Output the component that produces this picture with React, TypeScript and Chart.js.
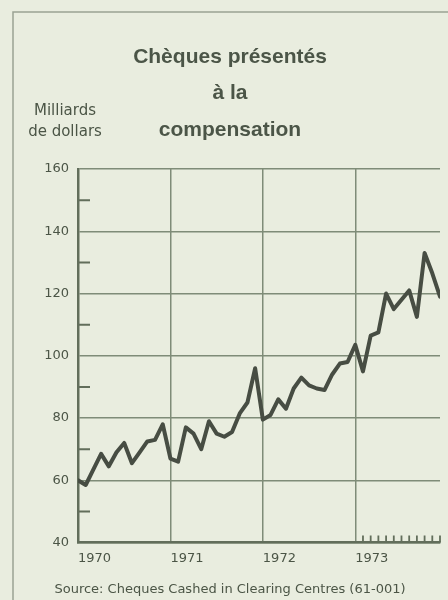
import React, { useEffect, useRef } from 'react';
import { Chart, registerables } from 'chart.js';

Chart.register(...registerables);

// ---- data ----
const titleLines = ['Chèques présentés', 'à la', 'compensation'];
const unitLines = ['Milliards', 'de dollars'];
const sourceText = 'Source: Cheques Cashed in Clearing Centres (61-001)';

const yearLabels = ['1970', '1971', '1972', '1973'];
const yearTickValues = [0, 12, 24, 36];

// monthly values, billions of dollars (Jan..Dec)
const values1970 = [60, 58.5, 63.5, 68.5, 64.5, 69, 72, 65.5, 69, 72.5, 73, 78];
const values1971 = [67, 66, 77, 75, 70, 79, 75, 74, 75.5, 81.5, 85, 96];
const values1972 = [79.5, 81, 86, 83, 89.5, 93, 90.5, 89.5, 89, 94, 97.5, 98];
const values1973 = [103.5, 95, 106.5, 107.5, 120, 115, 118, 121, 112.5, 133, 126.5, 119];

const yMajorStep = 20;
const minorYTicks = [50, 70, 90, 110, 130, 150];
const monthTicks1973 = [37, 38, 39, 40, 41, 42, 43, 44, 45, 46, 47];

// ---- styles ----
const BG = '#e9eddf';
const TEXT = '#4b5546';
const TITLE = '#4b5547';
const GRID = '#7f8c78';
const AXIS = '#626e5b';
const LINE = '#474d43';
const FRAME = '#9aa394';

const decorPlugin = {
  id: 'decor',
  beforeDraw(chart: any) {
    const ctx = chart.ctx;
    ctx.save();
    ctx.fillStyle = BG;
    ctx.fillRect(0, 0, chart.width, chart.height);
    // outer frame (left + top)
    ctx.strokeStyle = FRAME;
    ctx.lineWidth = 1.5;
    ctx.beginPath();
    ctx.moveTo(13, chart.height);
    ctx.lineTo(13, 12);
    ctx.lineTo(chart.width, 12);
    ctx.stroke();
    // unit label
    ctx.fillStyle = TEXT;
    ctx.font = '15px "DejaVu Sans"';
    ctx.textAlign = 'center';
    ctx.textBaseline = 'middle';
    ctx.fillText(unitLines[0], 65, 111);
    ctx.fillText(unitLines[1], 65, 132);
    ctx.restore();
  },
  beforeDatasetsDraw(chart: any) {
    const ctx = chart.ctx;
    const { left, bottom } = chart.chartArea;
    const ys = chart.scales.y;
    const xs = chart.scales.x;
    ctx.save();
    ctx.strokeStyle = AXIS;
    ctx.lineWidth = 2;
    ctx.beginPath();
    minorYTicks.forEach((v) => {
      const py = ys.getPixelForValue(v);
      ctx.moveTo(left, py);
      ctx.lineTo(left + 12, py);
    });
    ctx.stroke();
    ctx.lineWidth = 1.8;
    ctx.beginPath();
    monthTicks1973.forEach((m) => {
      const px = xs.getPixelForValue(m);
      ctx.moveTo(px, bottom);
      ctx.lineTo(px, bottom - 7);
    });
    ctx.stroke();
    ctx.restore();
  },
};

export default function App() {
  const ref = useRef<HTMLCanvasElement>(null);

  useEffect(() => {
    document.body.style.margin = '0';
    const values = [...values1970, ...values1971, ...values1972, ...values1973];
    const chart = new Chart(ref.current as HTMLCanvasElement, {
      type: 'line',
      data: {
        datasets: [
          {
            data: values.map((v, i) => ({ x: i, y: v })),
            borderColor: LINE,
            borderWidth: 4,
            pointRadius: 0,
            tension: 0,
            borderJoinStyle: 'round',
            borderCapStyle: 'round',
          },
        ],
      },
      options: {
        animation: false,
        responsive: false,
        devicePixelRatio: 1,
        layout: { padding: { left: 20, right: 8, top: 0, bottom: 0 } },
        plugins: {
          legend: { display: false },
          tooltip: { enabled: false },
          title: {
            display: true,
            text: titleLines,
            color: TITLE,
            font: { family: 'Liberation Sans', size: 21, weight: 'bold', lineHeight: 36.5 / 21 },
            padding: { top: 38.75, bottom: 20.75 },
          },
          subtitle: {
            display: true,
            position: 'bottom',
            text: sourceText,
            color: TEXT,
            font: { family: 'DejaVu Sans', size: 13, lineHeight: 1.2 },
            padding: { top: 9.4, bottom: 2.4 },
          },
        },
        scales: {
          x: {
            type: 'linear',
            min: 0,
            max: 47,
            afterBuildTicks: (s: any) => {
              s.ticks = yearTickValues.map((v) => ({ value: v }));
            },
            afterFit: (s: any) => {
              s.height = 30;
            },
            ticks: {
              align: 'start',
              maxRotation: 0,
              autoSkip: false,
              padding: 8,
              color: TEXT,
              font: { family: 'DejaVu Sans', size: 13 },
              callback: (v: any) => {
                const idx = yearTickValues.indexOf(Number(v));
                return idx >= 0 ? yearLabels[idx] : '';
              },
            },
            grid: { color: GRID, lineWidth: 1.5, drawTicks: false },
            border: { color: AXIS, width: 2.5 },
          },
          y: {
            min: 40,
            max: 160,
            afterFit: (s: any) => {
              s.width = 58;
            },
            ticks: {
              stepSize: yMajorStep,
              padding: 9,
              color: TEXT,
              font: { family: 'DejaVu Sans', size: 13 },
            },
            grid: { color: GRID, lineWidth: 1.5, drawTicks: false },
            border: { color: AXIS, width: 2.5 },
          },
        },
      },
      plugins: [decorPlugin],
    } as any);
    return () => chart.destroy();
  }, []);

  return (
    <div style={{ position: 'absolute', left: 0, top: 0, width: 448, height: 600, background: BG }}>
      <canvas ref={ref} width={448} height={600} style={{ display: 'block' }} />
    </div>
  );
}
